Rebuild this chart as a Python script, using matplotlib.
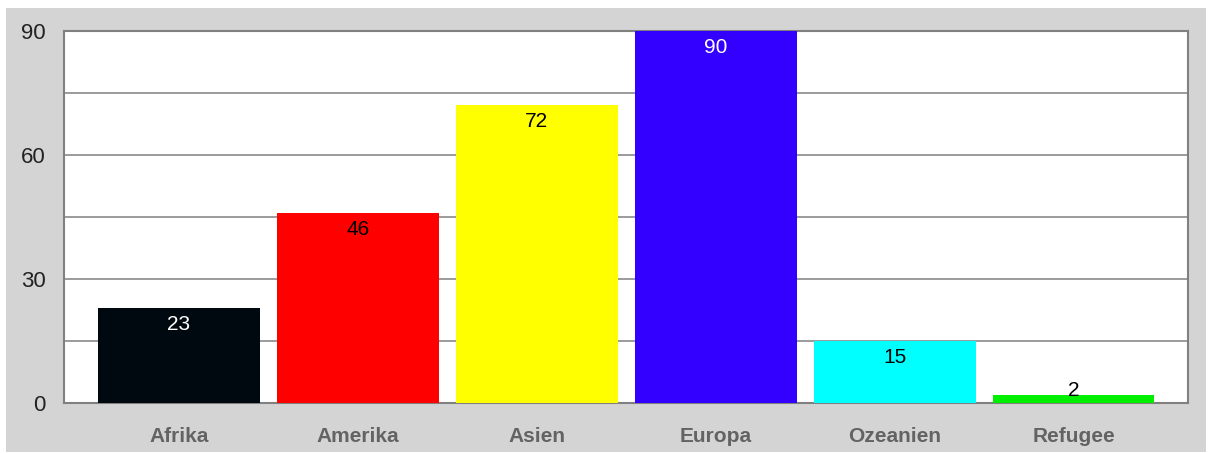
import numpy as np
import matplotlib.pyplot as plt
from matplotlib.patches import Rectangle

categories = ['Afrika', 'Amerika', 'Asien', 'Europa', 'Ozeanien', 'Refugee']
values = [23, 46, 72, 90, 15, 2]
colors = ['#000810', '#ff0000', '#ffff00', '#3300ff', '#00ffff', '#00ee00']
label_colors = ['white', 'black', 'black', 'white', 'black', 'black']

plt.rcParams['font.family'] = ['Liberation Sans', 'DejaVu Sans']

fig = plt.figure(figsize=(12.12, 4.53), dpi=100)
fig.patch.set_facecolor('white')
# grey panel behind the chart
fig.add_artist(Rectangle((6 / 1212, 1 / 453), 1200 / 1212, 444 / 453,
                         transform=fig.transFigure, facecolor='#d4d4d4',
                         edgecolor='none', zorder=-10))

ax = fig.add_axes([64 / 1212, (453 - 403) / 453, 1124 / 1212, 372 / 453])
ax.set_facecolor('white')

x = np.arange(len(categories))
ax.bar(x, values, width=0.905, color=colors, zorder=3)

for xi, v, c in zip(x, values, label_colors):
    if v >= 10:
        ax.annotate(str(v), (xi, v), xytext=(0, -5), textcoords='offset points',
                    ha='center', va='top', fontsize=15, color=c, zorder=4)
    else:
        # too short for an inside label: keep it just above the baseline
        ax.annotate(str(v), (xi, 0), xytext=(0, 2), textcoords='offset points',
                    ha='center', va='bottom', fontsize=15, color=c, zorder=4)

ax.set_xlim(-0.643, 5.64)
ax.set_ylim(0, 90)
ax.set_yticks([0, 30, 60, 90])
ax.set_yticks([15, 45, 75], minor=True)
ax.grid(axis='y', which='both', color='#8a8a8a', linewidth=1.2, zorder=1)
ax.tick_params(axis='y', which='both', length=0, pad=13, labelsize=16, labelcolor='#222222')
ax.set_xticks(x)
ax.set_xticklabels(categories, fontweight='bold', color='#636363')
ax.tick_params(axis='x', length=0, pad=17, labelsize=15)

for s in ax.spines.values():
    s.set_color('#808080')
    s.set_linewidth(1.5)

fig.savefig('out.png', dpi=100)
